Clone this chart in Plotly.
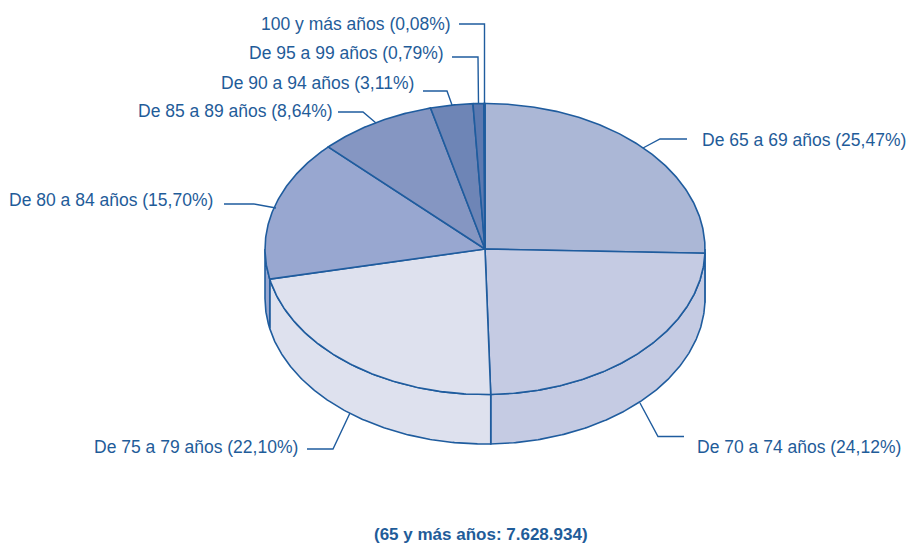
import numpy as np
import plotly.graph_objects as go

categories = ["De 65 a 69 años", "De 70 a 74 años", "De 75 a 79 años", "De 80 a 84 años",
              "De 85 a 89 años", "De 90 a 94 años", "De 95 a 99 años", "100 y más años"]
values = [25.47, 24.12, 22.10, 15.70, 8.64, 3.11, 0.79, 0.08]
colors = ["#ABB7D6", "#C5CBE3", "#DEE1EE", "#98A7D0", "#8596C2", "#6E85B6", "#5C79B0", "#4A6AA8"]
footer = "(65 y más años: 7.628.934)"

# Layout of the drawn pie (page pixels)
CX, CY, RX, RY, DEPTH = 485.0, 249.0, 220.0, 145.5, 49.5
LINE = "#1F5C9E"
TEXT = "#1F5C99"
FONT = "Liberation Sans"

label_pos = [(700, 140, "left"), (695, 447, "left"), (300, 447, "right"), (215, 200, "right"),
             (335, 111, "right"), (416, 83, "right"), (446, 53, "right"), (453, 24, "right")]
leaders = [
    [(687, 139), (660, 139), (643, 148)],
    [(684, 436.5), (658, 436.5), (640, 403)],
    [(307, 449), (333, 449), (350, 413)],
    [(224, 204), (254, 204), (276, 208)],
    [(338, 112), (363, 112), (376, 123)],
    [(423, 91), (447, 91), (452, 105)],
    [(452, 57), (478, 57), (478.5, 104)],
    [(459, 24), (484.5, 24), (484.5, 104)],
]


def arc(a0, a1, dy=0.0):
    n = max(2, int(abs(a1 - a0) / 0.5) + 2)
    t = np.radians(np.linspace(a0, a1, n))
    return CX + RX * np.sin(t), CY + dy - RY * np.cos(t)


edges = np.cumsum([0] + values) / sum(values) * 360
fig = go.Figure()


def poly(x, y, color, width=1.6):
    fig.add_trace(go.Scatter(x=list(x), y=list(y), mode="lines", fill="toself", fillcolor=color,
                             line=dict(color=LINE, width=width), hoverinfo="skip", showlegend=False))


# side wall (only the part of the rim facing the viewer)
for a0, a1, c in zip(edges[:-1], edges[1:], colors):
    lo, hi = max(a0, 90), min(a1, 270)
    if hi > lo:
        xt, yt = arc(lo, hi)
        xb, yb = arc(hi, lo, DEPTH)
        poly(np.r_[xt, xb, xt[0]], np.r_[yt, yb, yt[0]], c)

# top face
for a0, a1, c in zip(edges[:-1], edges[1:], colors):
    xa, ya = arc(a0, a1)
    poly(np.r_[CX, xa, CX], np.r_[CY, ya, CY], c)

# leader lines
for pts in leaders:
    fig.add_trace(go.Scatter(x=[p[0] for p in pts], y=[p[1] for p in pts], mode="lines",
                             line=dict(color=LINE, width=1.4), hoverinfo="skip", showlegend=False))

annotations = []
for cat, v, (x, y, anchor) in zip(categories, values, label_pos):
    txt = f"{cat} ({v:.2f}%)".replace(".", ",")
    annotations.append(dict(x=x, y=y, text=txt, showarrow=False, xanchor=anchor, yanchor="middle",
                            xref="x", yref="y", font=dict(family=FONT, size=17.5, color=TEXT)))
annotations.append(dict(x=481, y=534, text=f"<b>{footer}</b>", showarrow=False, xanchor="center",
                        yanchor="middle", xref="x", yref="y", font=dict(family=FONT, size=17, color=TEXT)))

fig.update_layout(
    width=908, height=545, margin=dict(l=0, r=0, t=0, b=0), paper_bgcolor="white", plot_bgcolor="white",
    xaxis=dict(range=[0, 908], visible=False, fixedrange=True),
    yaxis=dict(range=[545, 0], visible=False, fixedrange=True),
    annotations=annotations, showlegend=False,
)
fig.write_html("out.html", config=dict(displayModeBar=False),
               post_script="document.body.style.margin='0';document.body.style.overflow='hidden';")
